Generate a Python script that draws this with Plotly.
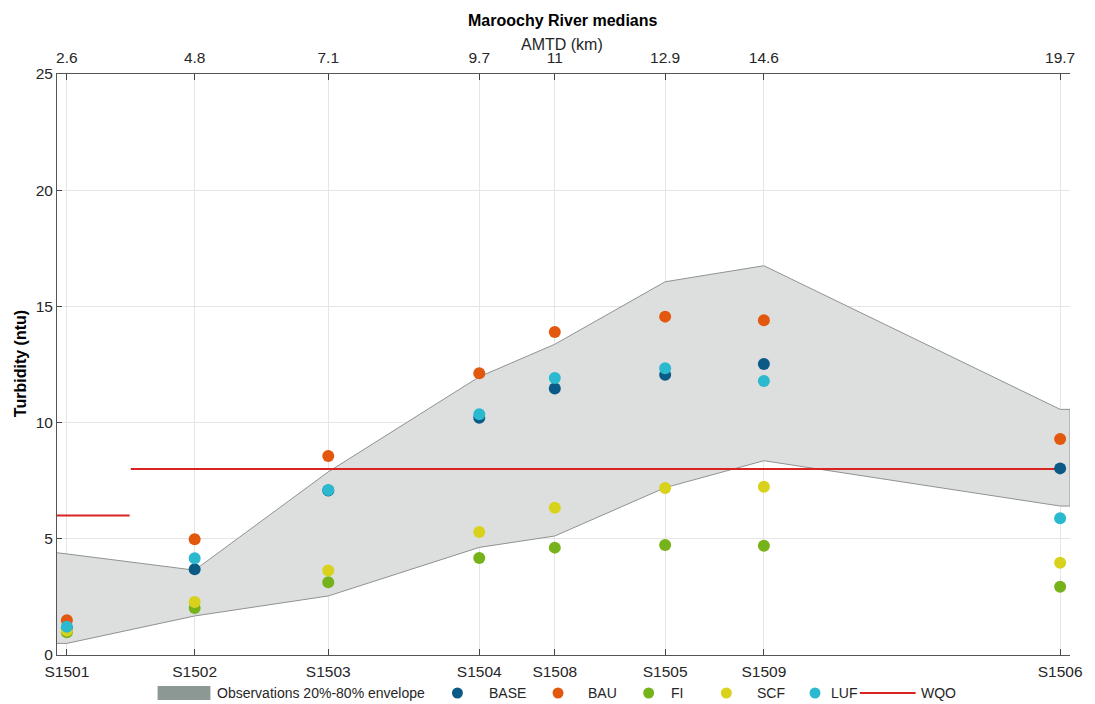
import plotly.graph_objects as go

# stations along the river and their distance (AMTD, km)
stations = ['S1501', 'S1502', 'S1503', 'S1504', 'S1508', 'S1505', 'S1509', 'S1506']
amtd_km = [2.6, 4.8, 7.1, 9.7, 11.0, 12.9, 14.6, 19.7]
amtd_labels = ['2.6', '4.8', '7.1', '9.7', '11', '12.9', '14.6', '19.7']

# scenario medians, turbidity (ntu)
base = [1.15, 3.69, 7.08, 10.21, 11.47, 12.06, 12.52, 8.03]
bau = [1.50, 4.98, 8.56, 12.12, 13.90, 14.56, 14.40, 9.29]
fi = [0.98, 2.02, 3.13, 4.17, 4.62, 4.73, 4.70, 2.94]
scf = [1.05, 2.28, 3.64, 5.29, 6.34, 7.19, 7.24, 3.97]
luf = [1.22, 4.16, 7.10, 10.36, 11.92, 12.34, 11.79, 5.88]

# observations 20%-80% envelope (padded flat to the axis ends)
env_x = [2.43, 2.6, 4.8, 7.1, 9.7, 11.0, 12.9, 14.6, 19.7, 19.87]
env_hi = [4.40, 4.35, 3.65, 7.88, 11.97, 13.37, 16.06, 16.75, 10.57, 10.57]
env_lo = [0.50, 0.50, 1.68, 2.54, 4.63, 5.12, 7.20, 8.36, 6.41, 6.41]

# water quality objective
wqo_x = [2.43, 3.68, None, 3.70, 19.7]
wqo_y = [6, 6, None, 8, 8]

x_range = [2.43, 19.87]
y_range = [0, 25]

colors = {
    'BASE': '#0b5a86',
    'BAU': '#e3580f',
    'FI': '#76b31b',
    'SCF': '#d9d21c',
    'LUF': '#2ab9cf',
}
env_fill = '#dcdfdd'
env_line = '#8e9391'
env_patch = '#8b9893'
wqo_color = '#d92323'

W, H = 1095, 704
ML, MR, MT, MB = 57, 21, 74, 49


def px(x):
    return (x - ML) / (W - ML - MR)


def py(y):
    return (H - MB - y) / (H - MT - MB)


fig = go.Figure()

fig.add_trace(go.Scatter(
    x=env_x + env_x[::-1], y=env_hi + env_lo[::-1],
    fill='toself', fillcolor=env_fill, mode='lines',
    line=dict(color=env_line, width=1), hoverinfo='skip', showlegend=False))

fig.add_trace(go.Scatter(
    x=wqo_x, y=wqo_y, mode='lines', line=dict(color=wqo_color, width=2),
    showlegend=False))

for name, vals in [('BASE', base), ('BAU', bau), ('FI', fi), ('SCF', scf), ('LUF', luf)]:
    fig.add_trace(go.Scatter(
        x=amtd_km, y=vals, mode='markers', name=name,
        marker=dict(color=colors[name], size=12, line=dict(width=0)),
        showlegend=False))

# invisible trace to bring up the top axis
fig.add_trace(go.Scatter(x=amtd_km, y=base, xaxis='x2', mode='markers',
                         marker=dict(opacity=0), hoverinfo='skip', showlegend=False))

tickfont = dict(family='Liberation Sans, Arial, sans-serif', size=15.5, color='#262626')

fig.update_layout(
    width=W, height=H,
    margin=dict(l=ML, r=MR, t=MT, b=MB),
    plot_bgcolor='white', paper_bgcolor='white',
    font=dict(family='Liberation Sans, Arial, sans-serif', color='#262626'),
    showlegend=False,
    xaxis=dict(range=x_range, tickvals=amtd_km, ticktext=stations,
               ticks='inside', ticklen=6, tickcolor='#444', ticklabelstandoff=2,
               showline=True, linecolor='#555', linewidth=1,
               showgrid=True, gridcolor='#e5e5e5', gridwidth=1,
               zeroline=False, tickfont=tickfont),
    xaxis2=dict(range=x_range, tickvals=amtd_km, ticktext=amtd_labels,
                overlaying='x', side='top', anchor='y',
                ticks='inside', ticklen=6, tickcolor='#444', ticklabelstandoff=4,
                showline=True, linecolor='#555', linewidth=1,
                showgrid=False, zeroline=False, tickfont=tickfont),
    yaxis=dict(range=y_range, tickvals=[0, 5, 10, 15, 20, 25],
               ticks='inside', ticklen=5, tickcolor='#444',
               showline=True, linecolor='#555', linewidth=1,
               showgrid=True, gridcolor='#e5e5e5', gridwidth=1,
               zeroline=False, tickfont=tickfont),
)

annotations = [
    dict(text='<b>Maroochy River medians</b>', x=px(565), y=py(20),
         font=dict(size=16, color='#000')),
    dict(text='AMTD (km)', x=px(564), y=py(45), font=dict(size=16, color='#262626')),
    dict(text='<b>Turbidity (ntu)</b>', x=px(20), y=py(364), textangle=-90,
         font=dict(size=16, color='#000')),
]

# legend row drawn by hand
LY = 693
shapes = [dict(type='rect', xref='paper', yref='paper',
               x0=px(158), x1=px(211), y0=py(LY + 7), y1=py(LY - 7),
               fillcolor=env_patch, line=dict(width=0))]
annotations.append(dict(text='Observations 20%-80% envelope', x=px(216), y=py(LY),
                        xanchor='left', font=dict(size=14, color='#262626')))

legend_items = [('BASE', 459, 489), ('BAU', 560, 588), ('FI', 651, 671),
                ('SCF', 729, 758), ('LUF', 818, 832)]
for name, dot_x, text_x in legend_items:
    shapes.append(dict(type='circle', xref='paper', yref='paper',
                       x0=px(dot_x - 5.5), x1=px(dot_x + 5.5),
                       y0=py(LY + 5.5), y1=py(LY - 5.5),
                       fillcolor=colors[name], line=dict(width=0)))
    annotations.append(dict(text=name, x=px(text_x), y=py(LY), xanchor='left',
                            font=dict(size=14, color='#262626')))

shapes.append(dict(type='line', xref='paper', yref='paper',
                   x0=px(863), x1=px(919), y0=py(LY), y1=py(LY),
                   line=dict(color=wqo_color, width=2)))
annotations.append(dict(text='WQO', x=px(922), y=py(LY), xanchor='left',
                        font=dict(size=14, color='#262626')))

for a in annotations:
    a.update(xref='paper', yref='paper', showarrow=False)
    a.setdefault('yanchor', 'middle')
    a.setdefault('xanchor', 'center')

fig.update_layout(annotations=annotations, shapes=shapes)

fig.write_html('out.html', config={'displayModeBar': False},
               post_script="document.body.style.margin='0';")
